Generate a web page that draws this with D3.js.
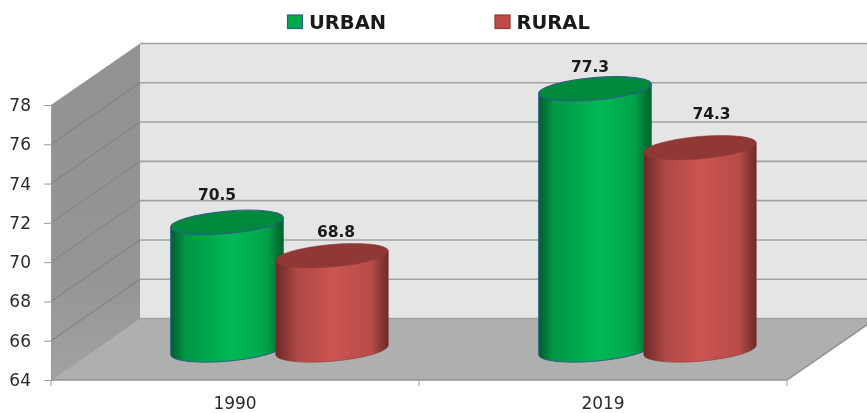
<!DOCTYPE html>
<html><head><meta charset="utf-8">
<script src="https://cdnjs.cloudflare.com/ajax/libs/d3/7.8.5/d3.min.js"></script>
<style>html,body{margin:0;padding:0;background:#fff;overflow:hidden}svg{display:block}text{font-family:"DejaVu Sans",sans-serif;fill:#2a2a2a}</style>
</head><body><svg id="c" width="867" height="413"></svg>
<script>
const categories = ["1990", "2019"];
const seriesNames = ["URBAN", "RURAL"];
const urban = [70.5, 77.3];
const rural = [68.8, 74.3];
const yTicks = [64, 66, 68, 70, 72, 74, 76, 78];

// layout
const W = 867, H = 413;
const depthX = 89, depthY = -61.5;
const midX = 44.5, midY = -30;
const rx = 56.5, ry = 11.2, tilt = -5;
const colours = {
  URBAN: {edge:"#005f2a", mid:"#00b955", top:"#03883c", line:"#2f5d8c"},
  RURAL: {edge:"#692a28", mid:"#cb5551", top:"#8f3936", line:"#8f3936"}
};
// hand-placed data-label shifts [dx, dy] by series then category
const labelShift = {URBAN:[[-10,-22],[-5,-16.5]], RURAL:[[4,-19],[11.5,-29]]};

const x = d3.scaleBand().domain(categories).range([51, 787]);
const y = d3.scaleLinear().domain([64, 78]).range([380, 105]);
const groupOffset = {URBAN: -52.5, RURAL: 52.5};

const svg = d3.select("#c");
const defs = svg.append("defs");
const stops = {URBAN:[[0,0],[0.13,0.62],[0.55,1],[0.85,0.75],[1,0]], RURAL:[[0,0],[0.2,0.72],[0.5,1],[0.85,0.8],[1,0]]};
seriesNames.forEach(s => {
  const g = defs.append("linearGradient").attr("id", "g" + s);
  const c = colours[s];
  stops[s].forEach(([o,m]) => g.append("stop").attr("offset", o).attr("stop-color", d3.interpolateRgb(c.edge,c.mid)(m)));
});
const sg = defs.append("linearGradient").attr("id","side").attr("x1",0).attr("x2",0).attr("y1",0).attr("y2",1);
sg.append("stop").attr("offset",0).attr("stop-color","#929292");
sg.append("stop").attr("offset",0.7).attr("stop-color","#959595");
sg.append("stop").attr("offset",1).attr("stop-color","#a2a2a2");
defs.append("filter").attr("id","soft").append("feGaussianBlur").attr("stdDeviation",0.45);

const line = d3.line();
const plot = svg.append("g").attr("filter","url(#soft)");
const [x0, x1] = x.range();
const backY = v => y(v) + depthY;

// walls
plot.append("path").attr("d", line([[x0+depthX, backY(78)],[W+5, backY(78)],[W+5, backY(64)],[x0+depthX, backY(64)]])+"Z").attr("fill","#e5e5e5");
plot.append("path").attr("d", line([[x0,y(78)],[x0+depthX,backY(78)],[x0+depthX,backY(64)],[x0,y(64)]])+"Z").attr("fill","url(#side)");
plot.append("path").attr("d", line([[x0,y(64)],[x1,y(64)],[x1+depthX,backY(64)],[x0+depthX,backY(64)]])+"Z").attr("fill","#afafaf");

// gridlines
yTicks.forEach(t => {
  if (t > 64 && t < 78) plot.append("path").attr("d", line([[x0,y(t)],[x0+depthX,backY(t)]])).attr("fill","none").attr("stroke","#828282").attr("stroke-width",1.1);
  plot.append("line").attr("x1",x0+depthX).attr("x2",W+5).attr("y1",backY(t)).attr("y2",backY(t)).attr("stroke","#a2a2a2").attr("stroke-width",1.6);
});
plot.append("path").attr("d", line([[x0,y(64)],[x1,y(64)],[x1+depthX,backY(64)]])).attr("fill","none").attr("stroke","#939393").attr("stroke-width",1.6);
plot.append("path").attr("d", line([[x0,y(64)],[x0+depthX,backY(64)]])).attr("fill","none").attr("stroke","#9a9a9a").attr("stroke-width",1);

// axes
const yAxis = d3.axisLeft(y).tickValues(yTicks).tickSize(7).tickPadding(13);
const yG = plot.append("g").attr("transform",`translate(${x0},0)`).call(yAxis);
const xAxis = d3.axisBottom(x).tickSize(0).tickPadding(16.5);
const xG = plot.append("g").attr("transform",`translate(0,${y(64)})`).call(xAxis);
xG.select(".domain").remove();
[yG, xG].forEach(g => {
  g.selectAll("text").attr("font-size",17).style("font-family",'"DejaVu Sans",sans-serif').attr("fill","#2a2a2a");
  g.selectAll("line").attr("stroke","#9a9a9a");
  g.select(".domain").attr("stroke","#9a9a9a");
});
categories.concat(["end"]).forEach((c,i) => {
  const px = x0 + i * x.step();
  plot.append("line").attr("x1",px).attr("x2",px).attr("y1",y(64)).attr("y2",y(64)+6).attr("stroke","#9a9a9a");
});

// cylinders
const dxE = rx * Math.cos(tilt*Math.PI/180), dyE = rx * Math.sin(tilt*Math.PI/180);
const rows = [["URBAN", urban], ["RURAL", rural]];
categories.forEach((c, i) => {
  rows.forEach(([s, vals]) => {
    const cx = x(c) + x.bandwidth()/2 + midX + groupOffset[s];
    const topY = y(vals[i]) + midY;
    const botY = y(64) + midY;
    const col = colours[s];
    const body = `M${cx-dxE},${topY-dyE}L${cx-dxE},${botY-dyE}A${rx},${ry} ${tilt} 0 0 ${cx+dxE},${botY+dyE}L${cx+dxE},${topY+dyE}Z`;
    plot.append("path").attr("d",body).attr("fill",`url(#g${s})`).attr("stroke",col.line).attr("stroke-width",s==="URBAN"?1:0.6);
    plot.append("ellipse").attr("cx",cx).attr("cy",topY).attr("rx",rx).attr("ry",ry)
      .attr("transform",`rotate(${tilt} ${cx} ${topY})`).attr("fill",col.top).attr("stroke",col.line).attr("stroke-width",s==="URBAN"?1:0.6);
  });
});

// data labels
categories.forEach((c, i) => {
  rows.forEach(([s, vals]) => {
    const cx = x(c) + x.bandwidth()/2 + midX + groupOffset[s];
    const [sx, sy] = labelShift[s][i];
    svg.append("text").attr("x",cx+sx).attr("y",y(vals[i])+midY+sy).attr("text-anchor","middle")
      .attr("font-size",15.5).attr("font-weight",700).style("fill","#1a1a1a").text(vals[i].toFixed(1));
  });
});

// legend
const legendX = {URBAN:287.5, RURAL:495};
seriesNames.forEach(s => {
  const col = colours[s];
  plot.append("rect").attr("x",legendX[s]).attr("y",15).attr("width",15).attr("height",13.5)
    .attr("fill", s==="URBAN" ? "#00a94d" : "#bf4c49").attr("stroke", col.line).attr("stroke-width",1.2);
  svg.append("text").attr("x",legendX[s]+21.5).attr("y",29).attr("font-size",19.5).attr("font-weight",700).style("fill","#1a1a1a").text(s);
});
</script></body></html>
